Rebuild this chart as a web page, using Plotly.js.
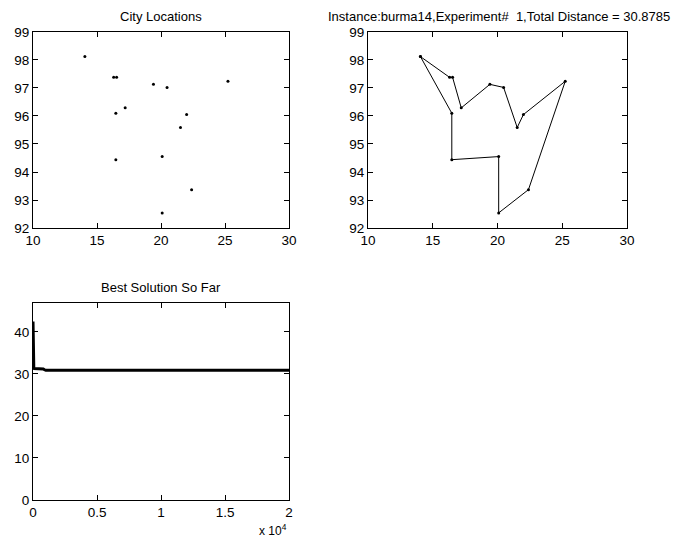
<!DOCTYPE html>
<html><head><meta charset="utf-8">
<script src="https://cdn.plot.ly/plotly-3.0.1.min.js"></script>
<style>html,body{margin:0;padding:0;background:#fff}#c{width:678px;height:543px}</style>
</head><body><div id="c"></div>
<script>
// burma14 city coordinates
const cityX = [16.47, 16.47, 20.09, 22.39, 25.23, 22.00, 20.47, 17.20, 16.30, 14.05, 16.53, 21.52, 19.41, 20.09];
const cityY = [96.10, 94.44, 92.54, 93.37, 97.24, 96.05, 97.02, 96.29, 97.38, 98.12, 97.38, 95.59, 97.13, 94.55];
// best tour (1-based city indices), closed
const tour = [10, 9, 11, 8, 13, 7, 12, 6, 5, 4, 3, 14, 2, 1, 10];
// convergence of best solution so far
const iterX = [0, 20, 40, 60, 100, 200, 400, 600, 800, 900, 1000, 5000, 10000, 15000, 20000];
const bestY = [42.5, 35.0, 32.5, 31.6, 31.3, 31.3, 31.3, 31.3, 31.2, 31.0, 30.88, 30.88, 30.88, 30.88, 30.88];
const x3TickVals = [0, 5000, 10000, 15000, 20000];
const x3TickText = ['0', '0.5', '1', '1.5', '2'];

const tourX = tour.map(i => cityX[i - 1]);
const tourY = tour.map(i => cityY[i - 1]);

const F = 'Liberation Sans, Arial, sans-serif';
function ax(extra) {
  return Object.assign({
    showgrid: false, zeroline: false, showline: true, linecolor: '#000', linewidth: 1,
    mirror: 'ticks', ticks: 'inside', ticklen: 5, tickcolor: '#000', tickwidth: 1,
    tickfont: {family: F, size: 13.5, color: '#000'}, fixedrange: true
  }, extra);
}
const traces = [
  {x: cityX, y: cityY, mode: 'markers', marker: {color: '#000', size: 3}, xaxis: 'x', yaxis: 'y', hoverinfo: 'none'},
  {x: tourX, y: tourY, mode: 'lines+markers', line: {color: '#000', width: 1}, marker: {color: '#000', size: 3}, xaxis: 'x2', yaxis: 'y2', hoverinfo: 'none'},
  {x: iterX, y: bestY, mode: 'lines', line: {color: '#000', width: 3}, xaxis: 'x3', yaxis: 'y3', hoverinfo: 'none'}
];
const layout = {
  width: 678, height: 543, margin: {l: 0, r: 0, t: 0, b: 0},
  paper_bgcolor: '#fff', plot_bgcolor: '#fff', showlegend: false,
  font: {family: F, color: '#000'},
  xaxis: ax({domain: [0.0487, 0.4263], range: [10, 30], tickvals: [10, 15, 20, 25, 30], anchor: 'y'}),
  yaxis: ax({domain: [0.5801, 0.9411], range: [92, 99], dtick: 1, anchor: 'x'}),
  xaxis2: ax({domain: [0.5428, 0.9248], range: [10, 30], tickvals: [10, 15, 20, 25, 30], anchor: 'y2'}),
  yaxis2: ax({domain: [0.5801, 0.9411], range: [92, 99], dtick: 1, anchor: 'x2'}),
  xaxis3: ax({domain: [0.0487, 0.4263], range: [0, 20000], tickvals: x3TickVals, ticktext: x3TickText, anchor: 'y3'}),
  yaxis3: ax({domain: [0.0792, 0.4420], range: [0, 46.9], tickvals: [0, 10, 20, 30, 40], anchor: 'x3'}),
  annotations: [
    {text: 'City Locations', xref: 'paper', yref: 'paper', x: 161/678, y: 1 - 16/543, xanchor: 'center', yanchor: 'middle', showarrow: false, font: {family: F, size: 13}},
    {text: 'Instance:burma14,Experiment#  1,Total Distance = 30.8785', xref: 'paper', yref: 'paper', x: 499/678, y: 1 - 16/543, xanchor: 'center', yanchor: 'middle', showarrow: false, font: {family: F, size: 13}},
    {text: 'Best Solution So Far', xref: 'paper', yref: 'paper', x: 161/678, y: 1 - 287/543, xanchor: 'center', yanchor: 'middle', showarrow: false, font: {family: F, size: 13}},
    {text: 'x 10<sup>4</sup>', xref: 'paper', yref: 'paper', x: 289/678, y: 1 - 530/543, xanchor: 'right', yanchor: 'middle', showarrow: false, font: {family: F, size: 12}}
  ]
};
Plotly.newPlot('c', traces, layout, {staticPlot: true, displayModeBar: false});
</script></body></html>
